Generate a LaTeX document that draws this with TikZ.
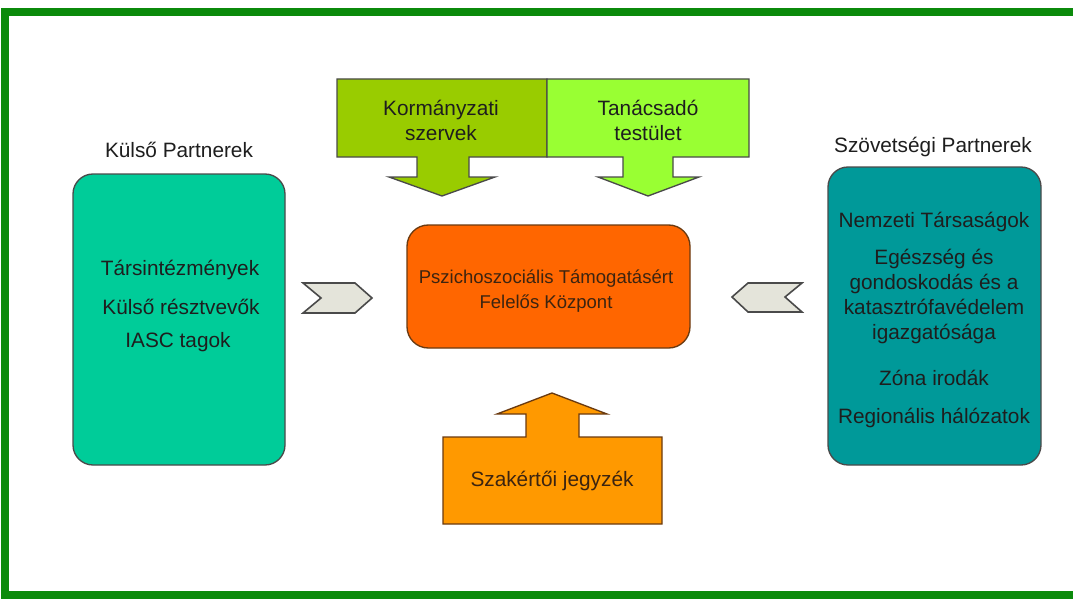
\documentclass[tikz,border=0pt]{standalone}
\usepackage{fontspec}
\setmainfont{Liberation Sans}
\definecolor{framegreen}{HTML}{0B8A0B}
\definecolor{leftfill}{HTML}{00CC99}
\definecolor{rightfill}{HTML}{009999}
\definecolor{centerfill}{HTML}{FF6600}
\definecolor{govfill}{HTML}{99CC00}
\definecolor{advfill}{HTML}{99FF33}
\definecolor{expfill}{HTML}{FF9900}
\definecolor{chevfill}{HTML}{E4E4DA}
\definecolor{edgegrey}{HTML}{4A4A4A}
\definecolor{edgebrown}{HTML}{6A3A10}
\definecolor{txtdark}{HTML}{1E1E1E}
\definecolor{txtbrown}{HTML}{3C2410}
\tikzset{
  lbl/.style={font=\fontsize{15.6pt}{18.75pt}\selectfont, text=txtdark, inner sep=0pt, align=center},
  blbl/.style={lbl, text=txtbrown},
  partnerbox/.style={draw=edgegrey, line width=1pt, rounded corners=15pt},
  shapeedge/.style={line width=1pt, line join=miter},
  chevron/.style={fill=chevfill, draw=edgegrey, line width=1.2pt}
}
\begin{document}
\begin{tikzpicture}[x=0.75pt,y=-0.75pt]
\useasboundingbox (0,0) rectangle (1073,599);
\fill[white] (0,0) rectangle (1073,599);
% frame (open on the right)
\draw[framegreen, line width=5.5pt] (1080,12) -- (5,12) -- (5,595) -- (1080,595);

% side partner boxes
\draw[partnerbox, fill=leftfill] (73,174) rectangle (285,465);
\draw[partnerbox, fill=rightfill] (828,167) rectangle (1041,465);
\node[lbl] (kulsoTitle) at (179,150) {Külső Partnerek};
\node[lbl] (szovTitle) at (933,147) {Szövetségi Partnerek};

\node[lbl] (l1) at (180,270) {Társintézmények};
\node[lbl] (l2) at (181,307) {Külső résztvevők};
\node[lbl] (l3) at (178,342) {IASC tagok};

\node[lbl] (r1) at (934,222) {Nemzeti Társaságok};
\node[lbl] (r2) at (934,296) {Egészség és\\gondoskodás és a\\katasztrófavédelem\\igazgatósága};
\node[lbl] (r3) at (934,378) {Zóna irodák};
\node[lbl] (r4) at (934,418) {Regionális hálózatok};

% center box
\draw[draw=edgebrown, line width=1pt, rounded corners=16pt, fill=centerfill] (407,225) rectangle (690,348);
\node[blbl, font=\fontsize{13.9pt}{18.75pt}\selectfont] (center) at (546,291) {Pszichoszociális Támogatásért\\Felelős Központ};

% top arrow boxes
\draw[shapeedge, draw=edgegrey, fill=govfill] (337,79) -- (547,79) -- (547,157) -- (469,157) -- (469,177) -- (495,177) -- (442,196) -- (389,177) -- (417,177) -- (417,157) -- (337,157) -- cycle;
\draw[shapeedge, draw=edgegrey, fill=advfill] (547,79) -- (749,79) -- (749,157) -- (673,157) -- (673,177) -- (699,177) -- (648,196) -- (598,177) -- (623,177) -- (623,157) -- (547,157) -- cycle;
\node[lbl] (gov) at (441,120) {Kormányzati\\szervek};
\node[lbl] (adv) at (648,120) {Tanácsadó\\testület};

% bottom arrow box
\draw[shapeedge, draw=edgebrown, fill=expfill] (443,437) -- (526,437) -- (526,414) -- (497,414) -- (552,393) -- (607,414) -- (579,414) -- (579,437) -- (662,437) -- (662,524) -- (443,524) -- cycle;
\node[blbl] (exp) at (552,481) {Szakértői jegyzék};

% chevrons
\draw[chevron] (303,283) -- (355,283) -- (372,298) -- (355,313) -- (303,313) -- (321,298) -- cycle;
\draw[chevron] (802,283) -- (748,283) -- (732,297) -- (748,312) -- (802,312) -- (785,297) -- cycle;
\end{tikzpicture}
\end{document}
